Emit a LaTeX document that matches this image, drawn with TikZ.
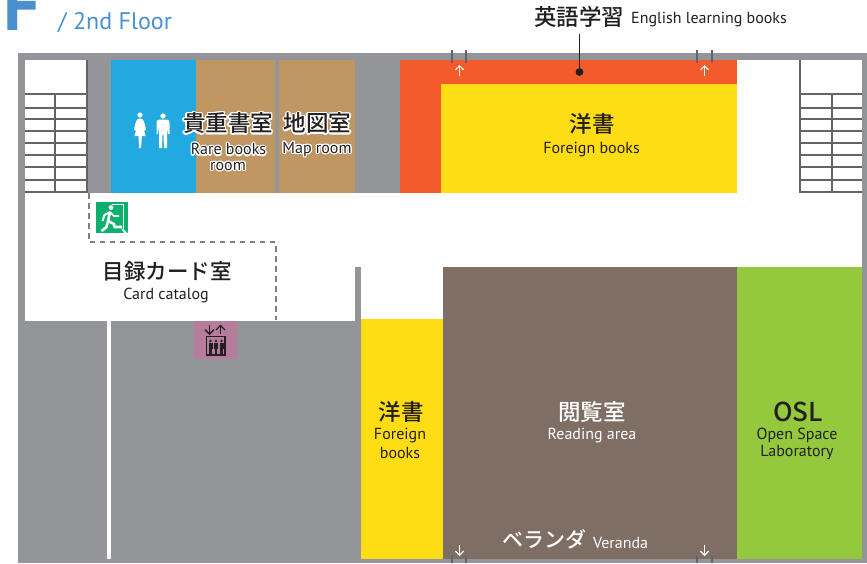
\documentclass[tikz,border=0pt]{standalone}
\usepackage{fontspec}
\setmainfont{PT Sans}
\newfontfamily\cjk{Noto Sans CJK JP Medium}
\usepackage[copies]{contour}
\contourlength{1.3pt}
\contournumber{16}
\definecolor{wallgray}{HTML}{939598}
\definecolor{linegray}{HTML}{636466}
\definecolor{inkdark}{HTML}{231F20}
\definecolor{titleblue}{HTML}{4A90CE}
\definecolor{wcblue}{HTML}{22A9E1}
\definecolor{tan}{HTML}{C09762}
\definecolor{orangeroom}{HTML}{F45B2B}
\definecolor{yellowroom}{HTML}{FFDD15}
\definecolor{brownroom}{HTML}{7F6E63}
\definecolor{greenroom}{HTML}{94C83D}
\definecolor{exitgreen}{HTML}{0BB06E}
\definecolor{evpink}{HTML}{B57C9E}
\usetikzlibrary{arrows.meta}
\tikzset{
  room/.style={fill=#1,draw=none},
  jp/.style={inner sep=0pt,text=inkdark,font=\fontsize{22.5}{24}\selectfont\cjk},
  en/.style={inner sep=0pt,text=inkdark,font=\fontsize{16}{18}\selectfont},
  stairline/.style={draw=linegray,line width=2pt},
  tick/.style={draw=linegray,line width=2pt},
  whitearrow/.style={draw=white,line width=1.2pt,-{Straight Barb[length=4pt,width=8pt]}},
  darkarrow/.style={draw=inkdark,line width=1.4pt,-{Straight Barb[length=4.5pt,width=9pt]}},
  dashline/.style={draw=wallgray!85!black,line width=2pt,dash pattern=on 5.5pt off 4.5pt},
}
\begin{document}
\begin{tikzpicture}[x=1pt,y=-1pt]
\useasboundingbox (0,0) rectangle (867,563);
\clip (0,0) rectangle (867,563);
% title
\node[anchor=base west,inner sep=0pt,text=titleblue,font=\fontsize{72}{72}\selectfont\bfseries] (bigf) at (3,30) {F};
\node[anchor=base west,inner sep=0pt,text=titleblue,font=\fontsize{24}{26}\selectfont] (floor) at (58,29) {/ 2nd Floor};
% building
\fill[wallgray] (18,53) rectangle (867,563);
\fill[white] (25,60) rectangle (87,193);
\fill[white] (737,60) rectangle (862,267);
\fill[white] (25,193) rectangle (862,267);
\fill[white] (25,267) rectangle (355,321);
\fill[white] (361,267) rectangle (443,319);
% rooms
\fill[room=wcblue] (111,60) rectangle (196,193);
\fill[room=tan] (196,60) rectangle (275,193);
\fill[room=tan] (279,60) rectangle (355,193);
\fill[room=orangeroom] (400,60) rectangle (737,193);
\fill[room=yellowroom] (441,84) rectangle (737,193);
\fill[room=yellowroom] (361,319) rectangle (443,559);
\fill[room=brownroom] (443,267) rectangle (737,559);
\fill[room=greenroom] (737,267) rectangle (862,559);
\fill[white] (106.5,321) rectangle (110.5,559);
% left stairs
\draw[stairline] (87,60) -- (87,193);
\draw[stairline] (54.5,94) -- (54.5,192);
\foreach \yy in {94,108,119,131,143,155,167,180,192} \draw[stairline] (25,\yy) -- (87,\yy);
% right stairs
\draw[stairline] (799.5,60) -- (799.5,193);
\draw[stairline] (832,94) -- (832,192);
\foreach \yy in {94,108,119,131,143,155,167,180,192} \draw[stairline] (799.5,\yy) -- (862,\yy);
% dashed boundary
\draw[dashline] (88.5,193) -- (88.5,242) -- (275.5,242) -- (275.5,320);
% ticks and arrows
\foreach \xa/\xb in {451.5/466,696.5/711.5}{
  \draw[tick] (\xa,50) -- (\xa,63);
  \draw[tick] (\xb,50) -- (\xb,63);
  \draw[tick] (\xa,556) -- (\xa,563);
  \draw[tick] (\xb,556) -- (\xb,563);
}
\foreach \xc in {459.5,704.5}{
  \draw[whitearrow] (\xc,76) -- (\xc,65);
  \draw[whitearrow] (\xc,545) -- (\xc,556);
}
% WC pictograms
\fill[white] (140,115) circle (2.6);
\fill[white] (139,118.5) -- (141,118.5) .. controls (143.5,119) and (144.5,122) .. (146,130) -- (144.5,130.5) -- (143,126) -- (145.5,136) -- (142,136) -- (141,148) -- (139,148) -- (138.5,136) -- (134.5,136) -- (137,126) -- (135.5,130.5) -- (134,130) .. controls (135.5,122) and (136.5,119) .. (139,118.5) -- cycle;
\fill[white] (163,116) circle (2.7);
\fill[white] (159,119.5) -- (167,119.5) .. controls (169,120) and (169.5,121) .. (169.5,123) -- (169.5,134) -- (168,134) -- (167,126) -- (167,148) -- (164,148) -- (163.5,135) -- (162.5,135) -- (162,148) -- (159,148) -- (159,126) -- (158,134) -- (156.5,134) -- (156.5,123) .. controls (156.5,121) and (157,120) .. (159,119.5) -- cycle;
% exit sign
\fill[exitgreen] (96,202) rectangle (127.5,233);
\draw[white,line width=0.8pt] (112,204.5) -- (123,204.5) -- (123,229);
\fill[white] (123,229) -- (127.5,233) -- (124,233) -- (121.5,229.5) -- cycle;
\fill[white] (111,207.5) circle (2.4);
\draw[white,line width=2pt,line join=round] (110,212) -- (104.5,215) -- (102.5,221);
\draw[white,line width=2.6pt,line join=round] (110,212) -- (108,221) -- (114,224) -- (114.5,227) -- (122,227);
\draw[white,line width=2.6pt,line join=round] (108,221) -- (106.5,227) -- (101.5,231);
\draw[white,line width=1.7pt,line join=round] (110,212) -- (114,216) -- (119,216);
% elevator
\fill[evpink] (194,321) rectangle (237,359);
\draw[darkarrow] (209.5,325) -- (209.5,335);
\draw[darkarrow] (220.5,334) -- (220.5,324.5);
\draw[inkdark,line width=1.6pt] (206.5,336.5) rectangle (225,355);
\foreach \xp in {210.5,216,221.5}{
  \fill[inkdark] (\xp,341) circle (1.3);
  \fill[inkdark] (\xp-2,342.8) rectangle (\xp+2,349);
  \fill[inkdark] (\xp-1.3,349) rectangle (\xp+1.3,353.5);
}
% labels
\node[jp] (eigo) at (579,17) {英語学習};
\node[en,anchor=west] (eigoen) at (631,20) {English learning books};
\coordinate (dot) at (579.5,72);
\draw[inkdark,line width=1.6pt] (eigo.south -| dot) ++(0,6) -- (dot);
\fill[inkdark] (dot) circle (3.9);
\node[jp] (yosho1) at (592,124) {洋書};
\node[en] (yosho1en) at (591.5,149.5) {Foreign books};
\node[jp] (kicho) at (228,124) {\contour{white}{貴重書室}};
\node[en] (kichoen) at (228.5,150) {\contour{white}{Rare books}};
\node[en] (kichoen2) at (228,167) {\contour{white}{room}};
\node[jp] (chizu) at (317.5,124) {\contour{white}{地図室}};
\node[en] (chizuen) at (317,150) {\contour{white}{Map room}};
\node[jp,font=\fontsize{21.5}{24}\selectfont\cjk] (mokuroku) at (167,271) {目録カード室};
\node[en] (mokurokuen) at (166,295.5) {Card catalog};
\node[jp] (yosho2) at (401,412) {洋書};
\node[en] (yosho2en) at (400,435.5) {Foreign};
\node[en] (yosho2en2) at (400,452.5) {books};
\node[jp,text=white] (etsuran) at (592,412) {閲覧室};
\node[en,text=white] (etsuranen) at (592,435.5) {Reading area};
\node[jp,font=\fontsize{26}{28}\selectfont\cjk] (osl) at (798,412) {OSL};
\node[en] (oslen) at (797,435.5) {Open Space};
\node[en] (oslen2) at (797,452.5) {Laboratory};
\node[jp,text=white,font=\fontsize{21}{24}\selectfont\cjk] (veranda) at (544,539) {ベランダ};
\node[en,text=white,anchor=west] (verandaen) at (593,542.5) {Veranda};
\end{tikzpicture}
\end{document}
